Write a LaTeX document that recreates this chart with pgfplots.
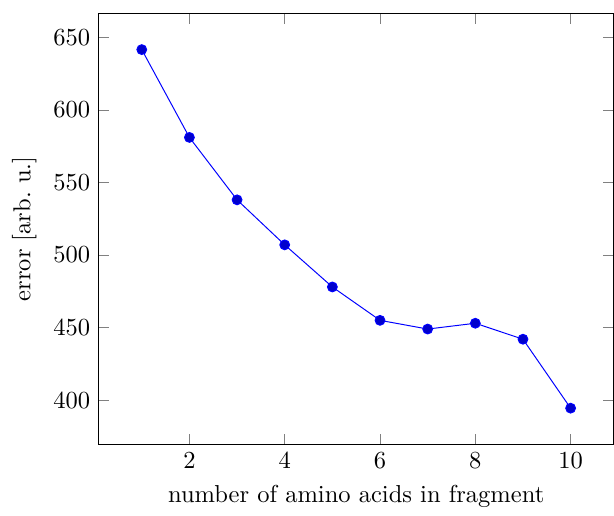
\documentclass[border={1.6pt 0pt 0pt 5.4pt}]{standalone}
\usepackage{pgfplots}
\pgfplotsset{compat=1.18}
\begin{document}
\begin{tikzpicture}
\begin{axis}[
  scale only axis,
  width=209.9pt, height=175.5pt,
  xlabel={number of amino acids in fragment},
  ylabel={error [arb.\ u.]}]
\addplot coordinates
{(1,641.5) (2,581) (3,538) (4,507) (5,478) (6,455) (7,449) (8,453) (9,442) (10,394.5)};
\end{axis}
\end{tikzpicture}
\end{document}
